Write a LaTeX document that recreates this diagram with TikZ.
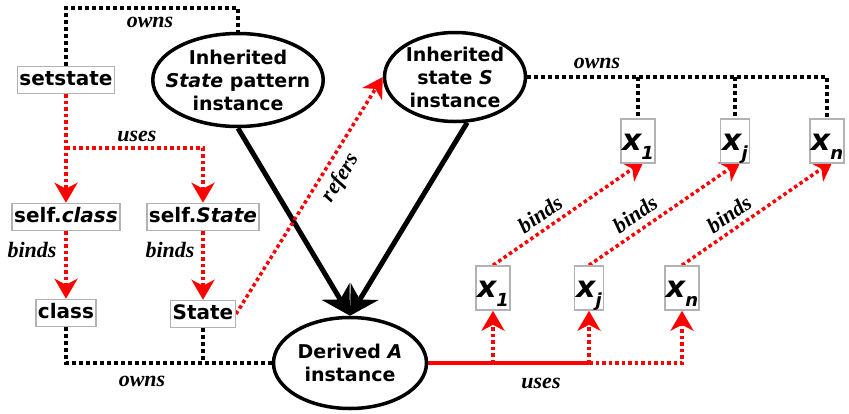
\documentclass[tikz,border=0pt]{standalone}
\usepackage{fontspec}
\setmainfont{DejaVu Sans}
\newfontfamily\lblfont{Liberation Serif}
\usetikzlibrary{calc,arrows.meta,shapes.geometric,backgrounds}
\def\xvar#1{x\raisebox{-9pt}{\fontsize{18}{18}\selectfont #1}}

\tikzset{
	varbox/.style={draw=black!30, line width=1.5pt, fill=white, inner xsep=2pt, inner ysep=4pt, text height=15pt, text depth=4pt, font=\fontsize{20}{24}\selectfont\bfseries},
	xbox/.style={draw=black!30, line width=1.5pt, fill=white, inner xsep=1pt, inner ysep=0pt, minimum width=29pt, text height=31pt, text depth=13pt, font=\fontsize{30}{30}\selectfont\bfseries\itshape},
	inst/.style={ellipse, draw, line width=3.5pt, fill=white, align=center, inner sep=-12pt, font=\fontsize{19}{23}\selectfont\bfseries},
	lbl/.style={font=\fontsize{22}{22}\selectfont\lblfont\bfseries\itshape},
	owns/.style={line width=4pt, dash pattern=on 4pt off 3pt},
	uses/.style={red, line width=3.5pt, dash pattern=on 3.5pt off 3pt},
	redtip/.style={-{Stealth[length=20pt, width=23pt, inset=6pt]}},
	blacktip/.style={line width=5pt, -{Stealth[length=28pt, width=32pt, inset=9pt]}}
}

\begin{document}
\begin{tikzpicture}[x=1pt, y=-1pt]
	%%%%% START %%%%%
	\useasboundingbox (0,0) rectangle (849,413);
	
	\node[varbox] (setstate) at (66,80) {setstate};
	\node[varbox] (selfcls) at (66,217) {self.\textit{class}};
	\node[varbox] (selfst) at (203,217) {self.\textit{State}};
	\node[varbox] (cls) at (66,313) {class};
	\node[varbox] (st) at (203,314) {State};
	
	\node[inst, minimum width=163pt, minimum height=93pt] (inh) at (238,80) {Inherited\\\textit{State} pattern\\instance};
	\node[inst, minimum width=141pt, minimum height=89pt] (inhS) at (455,77) {Inherited\\state \textit{S}\\instance};
	\node[inst, minimum width=153pt, minimum height=91pt] (der) at (350,363) {Derived \textit{A}\\instance};
	
	\node[xbox] (tx1) at (638,141) {\xvar{1}};
	\node[xbox] (tx2) at (735,141) {\xvar{j}};
	\node[xbox] (tx3) at (827,141) {\xvar{n}};
	\node[xbox] (bx1) at (493,288) {\xvar{1}};
	\node[xbox] (bx2) at (589,288) {\xvar{j}};
	\node[xbox] (bx3) at (682,288) {\xvar{n}};
	
	\coordinate (ownstop) at (150,8);
	\coordinate (usesjoin) at (66,148);
	
	\node[lbl] (lowns1) at (150,22) {owns};
	\node[lbl] (lowns2) at (597,63) {owns};
	\node[lbl] (lowns3) at (142,381) {owns};
	\node[lbl] (luses1) at (137,136) {uses};
	\node[lbl] (luses2) at (541,383) {uses};
	\node[lbl] (lbinds1) at (32,250) {binds};
	\node[lbl] (lbinds2) at (170,250) {binds};
	\node[lbl, rotate=58] (lrefers) at (341,178) {refers};
	\node[lbl, rotate=35] (lbinds3) at (540,214) {binds};
	\node[lbl, rotate=35] (lbinds4) at (635,214) {binds};
	\node[lbl, rotate=35] (lbinds5) at (729,214) {binds};
	
	\begin{pgfonlayer}{background}
		% owns
		\draw[owns] (setstate.north) |- (ownstop) -| (inh.north);
		\draw[owns] (inhS.east) -| (tx3.north);
		\draw[owns] (inhS.east -| tx1.north) -- (tx1.north);
		\draw[owns] (inhS.east -| tx2.north) -- (tx2.north);
		\draw[owns] (cls.south) |- (der.west);
		\draw[owns] (st.south) -- (st.south |- der.west);
		
		\draw[blacktip] (inh.south) -- (der.north);
		\draw[blacktip] (inhS.-75) -- (der.north);
		
		% uses, binds, refers
		\draw[uses, redtip] (setstate.south) -- (selfcls.north);
		\draw[uses, redtip] (usesjoin) -| (selfst.north);
		\draw[uses, redtip] (selfcls.south) -- (cls.north);
		\draw[uses, redtip] (selfst.south) -- (st.north);
		\draw[uses, redtip] (st.east) -- (inhS.west);
		
		\draw[red, line width=4pt] (der.east) -- (bx2.south |- der.east);
		\draw[uses, redtip] (bx1.south |- der.east) -- (bx1.south);
		\draw[uses, redtip] (bx2.south |- der.east) -- (bx2.south);
		\draw[uses, redtip] (bx2.south |- der.east) -| (bx3.south);
		
		\draw[uses, redtip] (bx1.north) -- ($(tx1.south)+(6,-3)$);
		\draw[uses, redtip] (bx2.north) -- ($(tx2.south)+(6,-3)$);
		\draw[uses, redtip] (bx3.north) -- ($(tx3.south)+(6,-3)$);
	\end{pgfonlayer}
	
	%%%%% END %%%%%
\end{tikzpicture}
\end{document}
